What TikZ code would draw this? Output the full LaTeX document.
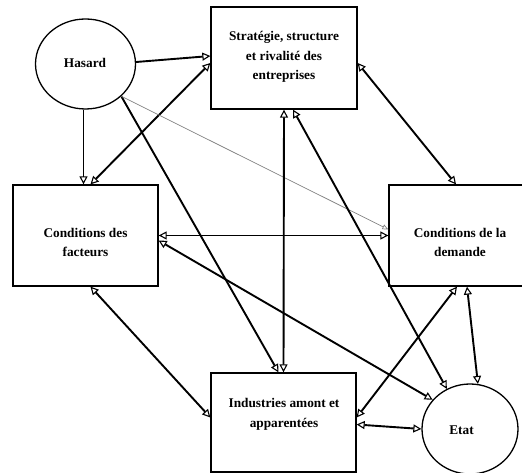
\documentclass[tikz,border=0pt]{standalone}
\usepackage{fontspec}
\setmainfont{Liberation Serif}
\usetikzlibrary{arrows.meta,shapes.geometric}

\tikzset{
	otri/.tip={Triangle[open, length=8pt, width=8pt, line width=1.1pt]},
	box/.style={draw, line width=1.3pt, inner sep=0pt},
	oval/.style={draw, ellipse, line width=1.3pt, inner sep=0pt},
	lbl/.style={align=center, inner sep=0pt, font=\bfseries\fontsize{13.3}{19.5}\selectfont},
	link/.style={line width=1.9pt, -otri},
	both/.style={line width=1.9pt, otri-otri},
	faint/.style={line width=0.7pt, gray, -{Triangle[open, length=6pt, width=5pt, line width=0.7pt]}}
}

\begin{document}
\begin{tikzpicture}[x=1pt, y=1pt]
		\useasboundingbox (0,0) rectangle (522,473);
		\node[oval, minimum width=100pt, minimum height=90pt] (has) at (85.5,409) {};
		\node[box, minimum width=146pt, minimum height=102pt] (strat) at (284,415) {};
		\node[box, minimum width=145pt, minimum height=101pt] (fact) at (85.5,237.5) {};
		\node[box, minimum width=142pt, minimum height=101pt] (dem) at (460,237.5) {};
		\node[box, minimum width=145pt, minimum height=99pt] (ind) at (283.5,50.5) {};
		\node[oval, minimum width=96pt, minimum height=90pt] (etat) at (470,44) {};
		\node[lbl] (haslbl) at (85,410) {Hasard};
		\node[lbl] (stratlbl) at (284,416) {Stratégie, structure\\et rivalité des\\entreprises};
		\node[lbl] (factlbl) at (85.5,230.5) {Conditions des\\facteurs};
		\node[lbl] (demlbl) at (460,230.5) {Conditions de la\\demande};
		\node[lbl] (indlbl) at (284,58.5) {Industries amont et\\apparentées};
		\node[lbl] (etatlbl) at (461.5,43) {Etat};
		\draw[link] ([yshift=2pt]has.east) -- ([yshift=2pt]strat.west);
		\draw[both] ([yshift=-5pt]strat.west) -- ([xshift=5pt]fact.north);
		\draw[link] ([xshift=-2pt]has.south) -- ([xshift=-2pt]fact.north);
		\draw[link] (has.south east) -- ([xshift=-5pt]ind.north);
		\draw[faint] (has.south east) -- ([yshift=6pt]dem.west);
		\draw[both] (strat.south) -- (ind.north);
		\draw[both] ([xshift=9pt]strat.south) -- (etat.120);
		\draw[both] ([yshift=-5pt]strat.east) -- ([xshift=-4pt]dem.north);
		\draw[both] (fact.east) -- (dem.west);
		\draw[both] ([yshift=-5pt]fact.east) -- (etat.142);
		\draw[both] ([xshift=5pt]fact.south) -- ([yshift=5pt]ind.west);
		\draw[both] ([xshift=-3pt]dem.south) -- ([yshift=5pt]ind.east);
		\draw[both] ([xshift=7pt]dem.south) -- (etat.80);
		\draw[both] ([yshift=-2pt]ind.east) -- (etat.west);
		\end{tikzpicture}
\end{document}
